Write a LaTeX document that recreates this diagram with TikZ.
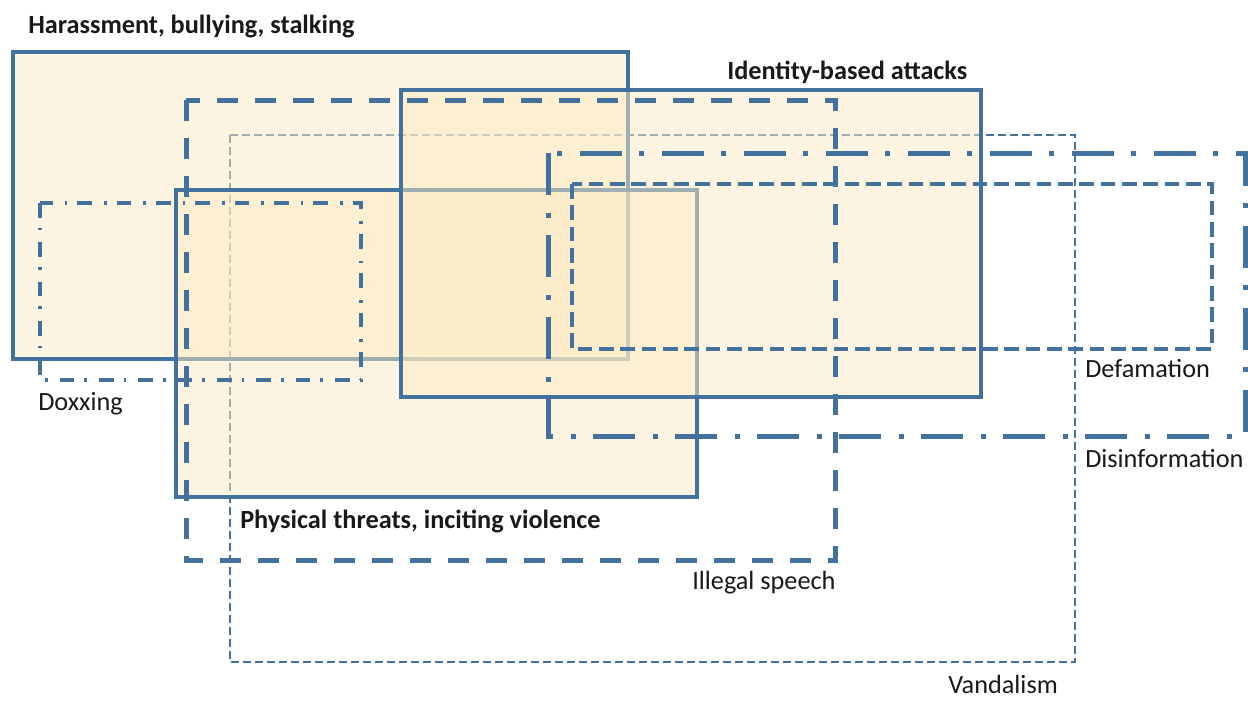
\documentclass[tikz,border=0pt]{standalone}
\usepackage{fontspec}
\setmainfont{Carlito}
\definecolor{lineblue}{RGB}{65,113,156}
\definecolor{boxfill}{RGB}{253,236,196}
\begin{document}
\begin{tikzpicture}[x=0.75pt,y=-0.75pt]
\tikzstyle{every node}=[font=\fontsize{19.7}{23}\selectfont, inner sep=0pt, text=black!90]
\tikzstyle{solidbox}=[draw=lineblue, line width=3pt, fill=boxfill, fill opacity=0.5]
\tikzstyle{longdash}=[draw=lineblue, line width=3.75pt, dash pattern=on 15.75pt off 12.75pt]
\tikzstyle{shortdash}=[draw=lineblue, line width=2.2pt, dash pattern=on 6pt off 3pt]
\tikzstyle{dotdash}=[draw=lineblue, line width=2.6pt, dash pattern=on 11pt off 7.5pt on 2pt off 9pt]
\tikzstyle{longdotdash}=[draw=lineblue, line width=3.75pt, dash pattern=on 31.5pt off 13.5pt on 3.75pt off 12.75pt]
\tikzstyle{middash}=[draw=lineblue, line width=3.6pt, dash pattern=on 11pt off 5pt]
\tikzstyle{heading}=[anchor=base west, font=\fontsize{19.7}{23}\selectfont\bfseries]

% white page
\useasboundingbox [fill=white] (0,0) rectangle (1248,700);

% vandalism sits under the shaded boxes
\draw [shortdash] (230,135) rectangle (1075,662);

% shaded boxes
\draw [solidbox] (13,52) rectangle (628,359);
\draw [solidbox] (176,190) rectangle (697,497);
\draw [solidbox] (401,90) rectangle (981,397);

% open boxes on top
\draw [longdash] (186,100) rectangle (835,560);
\draw [dotdash] (40,203) rectangle (361,380);
\draw [longdotdash] (548,153) rectangle (1245,436);
\draw [middash] (572,184) rectangle (1212,349);

% labels
\node [heading] (harass) at (28,33) {Harassment, bullying, stalking};
\node [heading] (identity) at (727,79) {Identity-based attacks};
\node [heading] (physical) at (240,528) {Physical threats, inciting violence};
\node [anchor=base west] (doxxing) at (38,410) {Doxxing};
\node [anchor=base west] (defamation) at (1085,377) {Defamation};
\node [anchor=base west] (disinfo) at (1085,467) {Disinformation};
\node [anchor=base west] (illegal) at (692,589) {Illegal speech};
\node [anchor=base west] (vandalism) at (948,693) {Vandalism};

\end{tikzpicture}
\end{document}
